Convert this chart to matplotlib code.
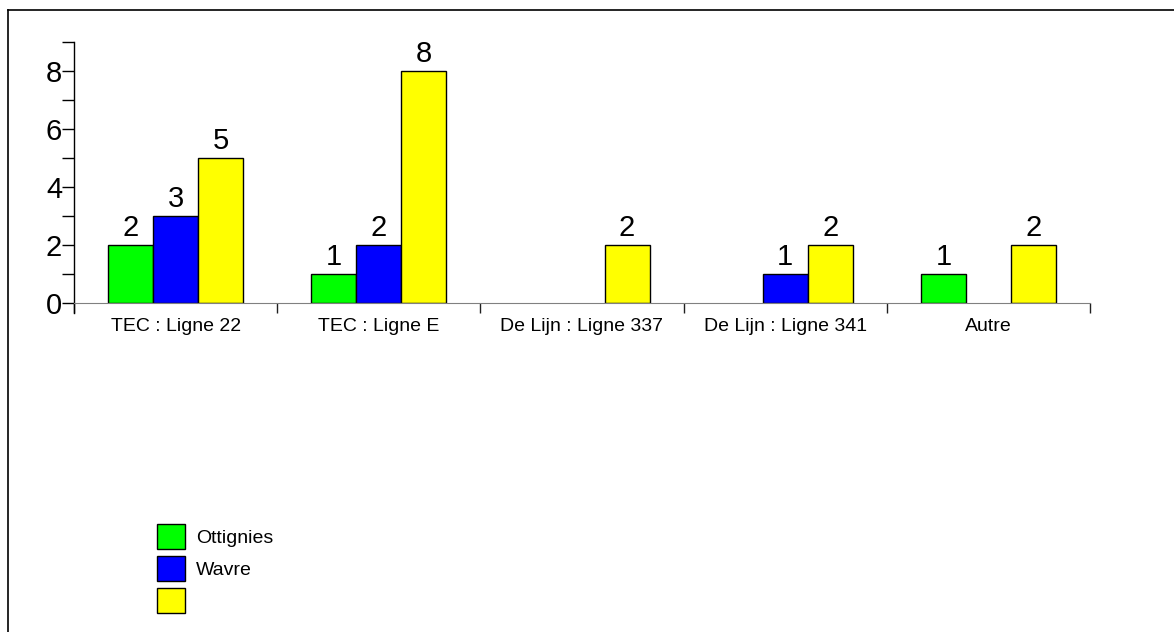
import numpy as np
import matplotlib
matplotlib.use("Agg")
import matplotlib.pyplot as plt
from matplotlib.patches import Patch
from matplotlib.lines import Line2D

plt.rcParams["font.family"] = ["Liberation Sans", "DejaVu Sans"]

# data
categories = ["TEC : Ligne 22", "TEC : Ligne E", "De Lijn : Ligne 337",
              "De Lijn : Ligne 341", "Autre"]
series_names = ["Ottignies", "Wavre", ""]
series_colors = ["#00ff00", "#0000ff", "#ffff00"]
ottignies = [2, 1, 0, 0, 1]
wavre = [3, 2, 0, 1, 0]
third = [5, 8, 2, 2, 2]
series_values = [ottignies, wavre, third]

W, H = 1174, 632
fig = plt.figure(figsize=(W / 100, H / 100), dpi=100)
ax = fig.add_axes([74 / W, 1 - 303 / H, (1090 - 74) / W, (303 - 42) / H])

x = np.arange(len(categories))
bw = 45 / 203.2
for i, (name, vals, col) in enumerate(zip(series_names, series_values, series_colors)):
    pos = x + (i - 1) * bw
    for p, v in zip(pos, vals):
        if v == 0:
            continue
        ax.bar(p, v, width=bw, color=col, edgecolor="black", linewidth=1)
        ax.text(p, v + 0.12, str(v), ha="center", va="bottom", fontsize=21)

ax.set_xlim(-0.5, len(categories) - 0.5)
ax.set_ylim(0, 9)

for s in ["top", "right"]:
    ax.spines[s].set_visible(False)
ax.spines["bottom"].set_color("#808080")
ax.spines["left"].set_visible(False)
# y axis line runs a bit below zero
ax.add_line(Line2D([0, 0], [-10 / 261, 1], transform=ax.transAxes,
                   color="black", linewidth=1, clip_on=False))

ax.set_yticks([0, 2, 4, 6, 8])
ax.set_yticks([1, 3, 5, 7, 9], minor=True)
ax.tick_params(axis="y", which="both", direction="out", length=8.6, width=1,
               pad=0, labelsize=21, color="black")

ax.set_xticks(np.arange(len(categories) + 1) - 0.5)
ax.set_xticklabels([])
ax.set_xticks(x, minor=True)
ax.set_xticklabels(categories, minor=True)
ax.tick_params(axis="x", which="major", direction="out", length=7.2, width=1,
               color="#202020")
ax.tick_params(axis="x", which="minor", length=0, pad=10.5, labelsize=14)

handles = [Patch(facecolor=c, edgecolor="black", linewidth=1) for c in series_colors]
fig.legend(handles, series_names, loc="upper left",
           bbox_to_anchor=(157 / W, 1 - 524 / H), frameon=False,
           fontsize=14, handlelength=1.44, handleheight=1.60,
           handletextpad=0.55, labelspacing=0.36, borderpad=0, borderaxespad=0)

# outer frame (only left and top edges visible in the picture)
fig.add_artist(Line2D([7.5 / W, 7.5 / W], [0, 1 - 10 / H], color="black", linewidth=1.2))
fig.add_artist(Line2D([7.5 / W, 1], [1 - 10 / H, 1 - 10 / H], color="black", linewidth=1.2))

fig.savefig("out.png", dpi=100)
